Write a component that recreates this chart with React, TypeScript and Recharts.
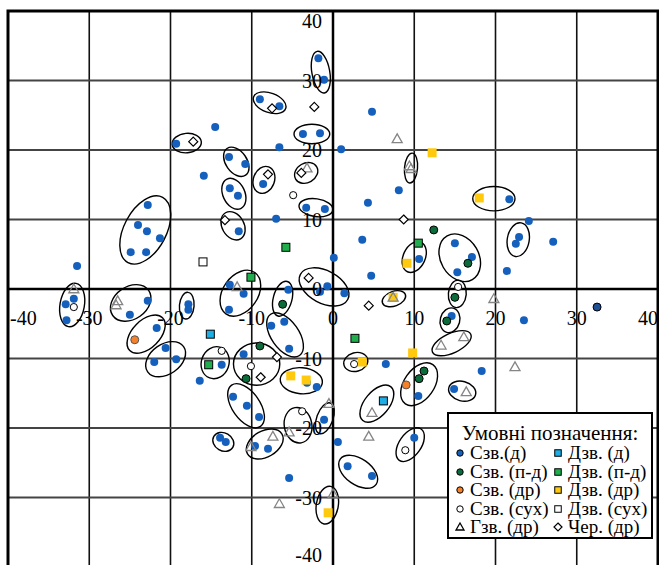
import React from "react";
import {
  ScatterChart,
  Scatter,
  XAxis,
  YAxis,
  CartesianGrid,
  ReferenceLine,
  ReferenceArea,
  Legend,
} from "recharts";

// layout
const W = 659;
const H = 575;
const M = { top: 11, right: 1, bottom: 7, left: 7 };
const PLOT_W = W - M.left - M.right - 1;
const PLOT_H = H - M.top - M.bottom - 1;
const X0 = M.left + 1 + PLOT_W / 2;
const Y0 = M.top + PLOT_H / 2;
const PX_X = PLOT_W / 80;
const FONT = '"Liberation Serif", "Times New Roman", serif';

const TICKS = [-40, -30, -20, -10, 0, 10, 20, 30, 40];

type P = [number, number];

// Сзв.(д)
const szvD: P[] = [
  [-1.8, 33.2], [-1.1, 30.1], [-9.0, 27.3], [-6.6, 26.3], [-14.5, 23.3],
  [-3.7, 22.3], [-1.6, 22.4], [-19.3, 20.9], [-6.6, 20.4], [-12.8, 19.0],
  [-10.8, 18.0], [-15.9, 16.3], [-8.6, 15.1], [-12.7, 14.5], [-11.7, 13.4],
  [-3.3, 11.7], [-1.0, 11.5], [-22.8, 12.1], [-24.0, 9.2], [-22.9, 8.3],
  [-21.3, 7.3], [-24.9, 5.3], [-23.0, 5.3], [-7.0, 10.1], [-11.6, 8.3],
  [-31.5, 3.3], [-12.7, 0.6], [-11.0, -0.7], [-12.8, -3.0], [-5.5, -0.1],
  [-0.7, 0.4], [-1.6, -0.4], [1.4, -0.6], [0.1, 4.5], [3.6, 7.1],
  [4.7, 1.9], [4.8, 25.5], [1.0, 20.1], [8.1, 14.2], [4.3, 12.4],
  [21.7, 12.9], [24.1, 9.8], [22.9, 7.5], [22.5, 6.5], [27.1, 6.8],
  [15.0, 6.6], [17.1, 4.6], [15.3, 2.4], [21.4, 2.6], [10.6, 4.3],
  [-31.9, -1.4], [-32.9, -2.2], [-32.8, -4.5], [-22.8, -1.7], [-25.0, -3.7],
  [-17.8, -2.2], [-17.8, -3.0], [-21.7, -5.6], [-20.6, -8.5], [-19.3, -10.1],
  [-22.0, -10.5], [-13.7, -10.9], [-16.4, -13.2], [-7.6, -5.3], [-6.0, -4.7],
  [-5.4, -8.6], [-11.0, -9.4], [-3.2, -13.5], [-2.0, -14.1], [-12.3, -15.5],
  [-10.6, -16.8], [-9.1, -18.4], [-1.1, -18.8], [-13.9, -21.4], [-13.2, -22.0],
  [-9.6, -22.6], [-8.0, -23.0], [-5.4, -27.2], [0.6, -22.0], [10.0, -21.4],
  [1.8, -25.5], [4.8, -26.9], [14.6, -3.9], [23.5, -4.5], [6.5, -10.8],
  [18.3, -11.8], [10.5, -15.4], [14.9, -14.4],
];
const szvDOutlined: P[] = [[32.5, -2.6]];

// Сзв. (п-д)
const szvPD: P[] = [
  [-6.2, -2.2], [-9.0, -8.2], [-10.7, -12.9], [12.4, 8.5], [16.6, 3.7],
  [15.0, -1.2], [14.0, -4.6], [10.6, -12.9], [11.2, -11.8],
];

// Сзв. (др)
const szvDr: P[] = [[-24.4, -7.3], [9.0, -13.8]];

// Сзв. (сух)
const szvSukh: P[] = [
  [-4.9, 13.5], [-31.9, -2.6], [-13.7, -8.9], [-10.1, -11.1], [-3.8, -17.6],
  [15.4, 0.3], [2.6, -10.8], [8.9, -23.2],
];

// Гзв. (др)
const gzvDr: P[] = [
  [-3.2, 17.4], [-11.8, 0.3], [-31.9, 0.0], [-26.5, -1.7], [-26.7, -2.3],
  [7.9, 21.6], [9.4, 17.7], [9.6, 17.3], [7.4, -1.2], [19.8, -1.4],
  [13.3, -8.1], [16.1, -6.9], [22.4, -11.2], [16.4, -14.8], [4.8, -17.8],
  [4.4, -21.2], [-0.5, -16.5], [-5.4, -20.6], [-7.4, -21.2], [-10.1, -22.7],
  [0.0, -29.5], [-6.6, -30.9],
];

// Дзв. (д)
const dzvD: P[] = [[-15.1, -6.5], [6.2, -16.1]];

// Дзв. (п-д)
const dzvPD: P[] = [[-5.8, 6.0], [-10.1, 1.7], [10.5, 6.6], [-15.3, -10.9], [2.7, -7.1]];

// Дзв. (др)
const dzvDr: P[] = [
  [12.2, 19.6], [18.0, 13.1], [9.1, 3.7], [7.4, -1.2], [9.8, -9.2],
  [3.6, -10.5], [-5.2, -12.5], [-3.3, -13.1], [-0.6, -32.2],
];

// Дзв. (сух)
const dzvSukh: P[] = [[-16.0, 3.9]];

// Чер. (др)
const cherDr: P[] = [
  [-7.5, 26.0], [-2.3, 26.2], [-17.2, 21.2], [-8.0, 16.5], [-3.9, 16.7],
  [-13.3, 9.9], [-3.0, 1.6], [4.4, -2.4], [8.7, 10.0], [-6.9, -9.8],
  [-8.9, -12.7],
];

// groups circled on the chart: centre x, y, semi-axes a, b (x-axis units), tilt in degrees
const groups: [number, number, number, number, number][] = [
  [-1.5, 31.2, 2.6, 1.1, 80], [-7.8, 26.8, 2.1, 1.2, 20], [-2.6, 22.3, 2.2, 1.2, 0],
  [-18.0, 21.0, 1.8, 1.2, -5], [-11.9, 18.3, 2.0, 1.3, 55], [-8.5, 15.7, 1.7, 1.3, -70],
  [-3.3, 16.7, 1.5, 1.2, -30], [-12.2, 13.7, 2.0, 1.35, 65], [-2.1, 11.7, 2.1, 1.1, 8],
  [-23.1, 8.5, 4.55, 2.6, -62], [-12.3, 9.1, 1.85, 1.35, 60], [-11.4, -0.6, 3.1, 2.15, -55],
  [-6.2, -1.4, 2.2, 1.15, -75], [-1.1, 0.3, 3.3, 2.0, 28], [-5.9, -6.6, 3.1, 1.7, 55],
  [7.5, -1.4, 1.5, 0.9, -20], [10.0, 4.6, 2.0, 1.35, -65], [2.8, -10.5, 1.5, 1.15, -15],
  [-3.9, -13.2, 2.6, 1.6, 5], [-4.3, -19.6, 2.2, 1.7, 80], [-1.0, -18.6, 2.0, 1.0, -70],
  [-8.4, -22.3, 2.45, 1.6, -30], [-13.5, -22.0, 1.35, 1.1, 30], [-10.7, -16.8, 3.1, 1.7, 55],
  [-9.4, -10.8, 2.85, 2.6, 0], [-14.5, -10.6, 2.0, 1.7, -70], [-20.6, -10.1, 2.7, 1.85, -35],
  [-23.0, -6.5, 2.85, 1.7, -45], [-18.0, -2.4, 1.65, 0.9, -85], [-24.9, -2.0, 2.7, 2.0, -35],
  [-32.1, -2.3, 2.7, 1.5, -80], [3.1, -26.3, 2.7, 1.6, 35], [-0.7, -31.1, 2.35, 1.35, -80],
  [5.4, -16.5, 2.7, 1.5, -50], [10.6, -13.7, 2.95, 1.85, -55], [9.5, -22.4, 2.35, 1.35, -55],
  [15.9, -14.7, 1.7, 1.2, 15], [14.6, -7.8, 2.6, 1.2, -25], [14.4, -4.5, 1.55, 1.2, -75],
  [15.3, -0.7, 1.7, 1.1, -85], [15.6, 4.5, 3.1, 2.35, 60], [22.8, 7.1, 2.1, 1.35, -80],
  [19.8, 13.0, 2.6, 1.5, 0], [9.6, 17.4, 1.85, 0.8, -85],
];

const pts = (a: P[]) => a.map(([x, y]) => ({ x, y }));
const ellipses = groups.map(([x, y, a, b, angle]) => ({ x, y, a, b, angle }));

// marker shapes
const dot = (fill: string, stroke = "none", r = 4) => (p: any) => (
  <circle cx={p.cx} cy={p.cy} r={r} fill={fill} stroke={stroke} strokeWidth={1} />
);
const square = (fill: string, stroke = "none", s = 8) => (p: any) => (
  <rect x={p.cx - s / 2} y={p.cy - s / 2} width={s} height={s} fill={fill} stroke={stroke} strokeWidth={1} />
);
const triangle = (stroke: string, s = 5) => (p: any) => (
  <polygon
    points={`${p.cx},${p.cy - s} ${p.cx - s},${p.cy + s * 0.75} ${p.cx + s},${p.cy + s * 0.75}`}
    fill="none"
    stroke={stroke}
    strokeWidth={1.3}
  />
);
const diamond = (s = 4.5) => (p: any) => (
  <polygon
    points={`${p.cx},${p.cy - s} ${p.cx + s},${p.cy} ${p.cx},${p.cy + s} ${p.cx - s},${p.cy}`}
    fill="#fff"
    stroke="#000"
    strokeWidth={1.2}
  />
);
const ellipseShape = (p: any) => {
  const { a, b, angle } = p.payload;
  return (
    <ellipse
      cx={p.cx}
      cy={p.cy}
      rx={a * PX_X}
      ry={b * PX_X}
      transform={`rotate(${angle} ${p.cx} ${p.cy})`}
      fill="none"
      stroke="#000"
      strokeWidth={1.4}
    />
  );
};

const BLUE = "#1560bd";
const DKGREEN = "#0b6b3a";
const ORANGE = "#f5822a";
const CYAN = "#1eaee6";
const GREEN = "#1fae4b";
const YELLOW = "#ffc90e";
const GRAY = "#858585";

const legendLeft = [
  { name: "Сзв.(д)", mark: dot(BLUE, "#000", 3.2) },
  { name: "Сзв. (п-д)", mark: dot(DKGREEN, "#000", 3.2) },
  { name: "Сзв. (др)", mark: dot(ORANGE, "#000", 3.2) },
  { name: "Сзв. (сух)", mark: dot("#fff", "#000", 3.2) },
  { name: "Гзв. (др)", mark: triangle("#000", 4) },
];
const legendRight = [
  { name: "Дзв. (д)", mark: square(CYAN, "#000", 6.5) },
  { name: "Дзв. (п-д)", mark: square(GREEN, "#000", 6.5) },
  { name: "Дзв. (др)", mark: square(YELLOW, "#000", 6.5) },
  { name: "Дзв. (сух)", mark: square("#fff", "#000", 6.5) },
  { name: "Чер. (др)", mark: diamond(4) },
];

function LegendBox() {
  const row = (item: { name: string; mark: (p: any) => React.ReactElement }, i: number, left: number) => (
    <div
      key={item.name}
      style={{
        position: "absolute",
        left,
        top: 30 + i * 18.5,
        height: 18,
        lineHeight: "18px",
        display: "flex",
        alignItems: "center",
        whiteSpace: "nowrap",
      }}
    >
      <svg width={12} height={12} style={{ marginRight: 4 }}>
        {item.mark({ cx: 6, cy: 6 })}
      </svg>
      <span>{item.name}</span>
    </div>
  );
  return (
    <div
      style={{
        position: "relative",
        width: 206,
        height: 127,
        boxSizing: "border-box",
        border: "2.5px solid #000",
        background: "#fff",
        fontFamily: FONT,
        fontSize: 19,
        color: "#000",
      }}
    >
      <div style={{ position: "absolute", left: 0, right: 0, top: 9, textAlign: "center", fontSize: 21, lineHeight: "20px" }}>
        Умовні позначення:
      </div>
      {legendLeft.map((it, i) => row(it, i, 5))}
      {legendRight.map((it, i) => row(it, i, 103))}
    </div>
  );
}

const XTick = (p: any) => {
  const v = p.payload.value;
  const anchor = v === -40 ? "start" : v === 40 ? "end" : "middle";
  const x = v === -40 ? p.x + 2 : p.x;
  return (
    <text x={x} y={Y0 + 36} textAnchor={anchor} fontFamily={FONT} fontSize={20} fill="#000">
      {v}
    </text>
  );
};

const YTick = (p: any) => {
  const v = p.payload.value;
  const shift = v === 40 ? 17 : v === -40 ? -5 : 7;
  return (
    <text x={X0 - 11} y={p.y + shift} textAnchor="end" fontFamily={FONT} fontSize={20} fill="#000">
      {v}
    </text>
  );
};

export default function App() {
  return (
    <div style={{ position: "fixed", left: 0, top: 0, width: 659, height: 565, overflow: "hidden", background: "#fff" }}>
      <ScatterChart width={W} height={H} margin={M}>
        <CartesianGrid horizontal={false} stroke="#111" strokeWidth={1.6} />
        <CartesianGrid vertical={false} stroke="#444" strokeWidth={1.8} />
        <XAxis
          type="number"
          dataKey="x"
          domain={[-40, 40]}
          ticks={TICKS}
          interval={0}
          height={1}
          axisLine={false}
          tickLine={false}
          tick={(p: any) => <XTick {...p} />}
        />
        <YAxis
          type="number"
          dataKey="y"
          domain={[-40, 40]}
          ticks={TICKS}
          interval={0}
          width={1}
          axisLine={false}
          tickLine={false}
          tick={(p: any) => <YTick {...p} />}
        />
        <ReferenceLine x={0} stroke="#000" strokeWidth={2.5} />
        <ReferenceLine y={0} stroke="#000" strokeWidth={2.5} />
        <ReferenceArea x1={-40} x2={40} y1={-40} y2={40} fill="none" stroke="#000" strokeWidth={3} />
        <Legend
          layout="vertical"
          align="center"
          verticalAlign="middle"
          wrapperStyle={{ left: 447, top: 412, width: 206 }}
          content={() => <LegendBox />}
        />
        <Scatter name="groups" data={ellipses} shape={ellipseShape} legendType="none" isAnimationActive={false} />
        <Scatter name="Сзв.(д)" data={pts(szvD)} shape={dot(BLUE)} isAnimationActive={false} />
        <Scatter name="Сзв.(д) " data={pts(szvDOutlined)} shape={dot("#1f4f95", "#000")} legendType="none" isAnimationActive={false} />
        <Scatter name="Сзв. (п-д)" data={pts(szvPD)} shape={dot(DKGREEN, "#000")} isAnimationActive={false} />
        <Scatter name="Сзв. (др)" data={pts(szvDr)} shape={dot(ORANGE, "#555")} isAnimationActive={false} />
        <Scatter name="Сзв. (сух)" data={pts(szvSukh)} shape={dot("#fff", "#000", 3.6)} isAnimationActive={false} />
        <Scatter name="Дзв. (д)" data={pts(dzvD)} shape={square(CYAN, "#000", 8)} isAnimationActive={false} />
        <Scatter name="Дзв. (п-д)" data={pts(dzvPD)} shape={square(GREEN, "#000", 8)} isAnimationActive={false} />
        <Scatter name="Дзв. (др)" data={pts(dzvDr)} shape={square(YELLOW, "none", 9)} isAnimationActive={false} />
        <Scatter name="Дзв. (сух)" data={pts(dzvSukh)} shape={square("#fff", "#000", 8)} isAnimationActive={false} />
        <Scatter name="Гзв. (др)" data={pts(gzvDr)} shape={triangle(GRAY)} isAnimationActive={false} />
        <Scatter name="Чер. (др)" data={pts(cherDr)} shape={diamond()} isAnimationActive={false} />
      </ScatterChart>
    </div>
  );
}
